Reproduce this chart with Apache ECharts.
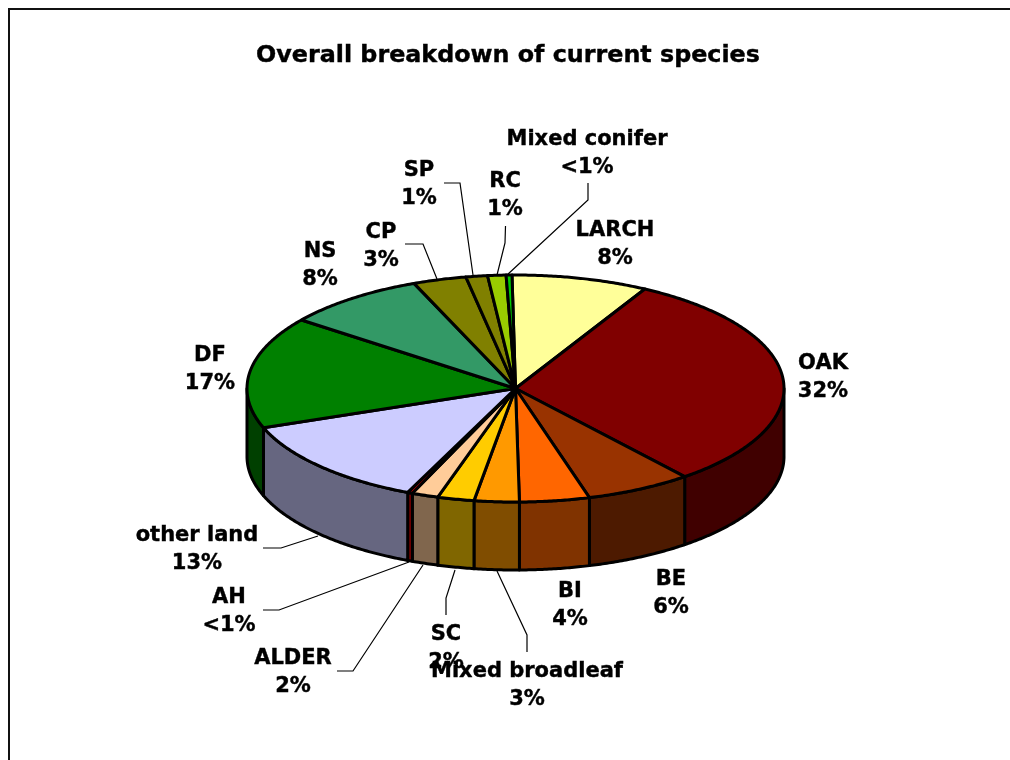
<!DOCTYPE html>
<html><head><meta charset="utf-8">
<style>html,body{margin:0;padding:0;background:#fff}#c{width:1010px;height:760px}</style>
<script src="https://cdn.jsdelivr.net/npm/echarts@6/dist/echarts.min.js"></script>
</head><body><div id="c"></div>
<script>
const titleText = 'Overall breakdown of current species';
const categories = ['LARCH','OAK','BE','BI','Mixed broadleaf','SC','ALDER','AH','other land','DF','NS','CP','SP','RC','Mixed conifer'];
const values = [8.2,31.1,6.4,4.2,2.7,2.2,1.6,0.3,12.8,15.9,8.5,3.2,1.3,1.1,0.35];
const percentLabels = ['8%','32%','6%','4%','3%','2%','2%','<1%','13%','17%','8%','3%','1%','1%','<1%'];
const colors = ['#FFFF99','#800000','#993300','#FF6600','#FF9900','#FFCC00','#FFCC99','#C00000','#CCCCFF','#008000','#339966','#808000','#808000','#99CC00','#00CC00'];
const sideColors = ['#808050','#400000','#4D1A00','#803300','#804D00','#806600','#80664D','#800000','#666680','#004000','#1A4D33','#404000','#404000','#4D6600','#006600'];
// label centres (x, first-line y)
const labelAnchors = [[615,231],[823,364],[671,580],[570,592],[527,672],[446,635],[293,659],[229,598],[197,536],[210,356],[320,252],[381,233],[419,171],[505,182],[587,140]];
// leader lines
const leaders = [null,null,null,null,
  [[527,652],[527,635],[497,571]],
  [[446,615],[446,598],[455,570]],
  [[337,671],[353,671],[423,565]],
  [[263,610],[279,610],[409,562]],
  [[263,548],[281,548],[318,536]],
  null,null,
  [[405,244],[423,244],[437,279]],
  [[444,183],[460,183],[473,275]],
  [[505.5,226],[505,243],[497,275]],
  [[588,183],[588,200],[507,275]]];

const CX=515.5, CY=388.5, RX=268.5, RY=113.5, DEPTH=68, START=-0.75;
const total = values.reduce((a,b)=>a+b,0);
const spans = []; { let a=START; for(const v of values){ const e=a+v/total*360; spans.push([a,e]); a=e; } }
const pt = (deg,dy=0)=>{ const r=deg*Math.PI/180; return [CX+RX*Math.sin(r), CY-RY*Math.cos(r)+dy]; };
const arc = (a,b,dy=0)=>{ const n=Math.max(2,Math.ceil(Math.abs(b-a)/0.5)); const p=[]; for(let i=0;i<=n;i++) p.push(pt(a+(b-a)*i/n,dy)); return p; };
const idx = categories.map((c,i)=>[i,values[i]]);
const edge = {stroke:'#000',lineWidth:3,lineJoin:'round'};

function renderWall(params){
  const i=params.dataIndex, a=Math.max(spans[i][0],90), b=Math.min(spans[i][1],270);
  if(b<=a) return {type:'group',children:[]};
  return {type:'polygon',shape:{points:arc(a,b).concat(arc(b,a,DEPTH))},style:{fill:sideColors[i],...edge}};
}
function renderTop(params){
  const i=params.dataIndex;
  return {type:'polygon',shape:{points:[[CX,CY]].concat(arc(spans[i][0],spans[i][1]))},style:{fill:colors[i],...edge}};
}
function renderLabel(params){
  const i=params.dataIndex, an=labelAnchors[i], ch=[];
  if(leaders[i]) ch.push({type:'polyline',shape:{points:leaders[i]},style:{fill:null,stroke:'#000',lineWidth:1.2}});
  ch.push({type:'text',style:{x:an[0],y:an[1]+14,text:categories[i]+'\n'+percentLabels[i],align:'center',verticalAlign:'middle',
    font:'bold 21px "DejaVu Sans"',fill:'#000',stroke:'#000',lineWidth:0.4,lineHeight:28}});
  return {type:'group',children:ch};
}
const chart=echarts.init(document.getElementById('c'),null,{renderer:'canvas'});
chart.setOption({
  animation:false,
  backgroundColor:'#fff',
  title:{text:titleText,left:503,top:39,textAlign:'center',textStyle:{fontFamily:'DejaVu Sans',fontWeight:'bold',fontSize:23.8,color:'#000',textBorderColor:'#000',textBorderWidth:0.4}},
  graphic:[{type:'polyline',shape:{points:[[9,760],[9,9],[1010,9]]},style:{fill:null,stroke:'#111',lineWidth:2},silent:true}],
  series:[
    {type:'custom',coordinateSystem:'none',name:'sides',data:idx,renderItem:renderWall,z:2},
    {type:'custom',coordinateSystem:'none',name:'tops',data:idx,renderItem:renderTop,z:3},
    {type:'custom',coordinateSystem:'none',name:'labels',data:idx,renderItem:renderLabel,z:4}
  ]
});
</script></body></html>
